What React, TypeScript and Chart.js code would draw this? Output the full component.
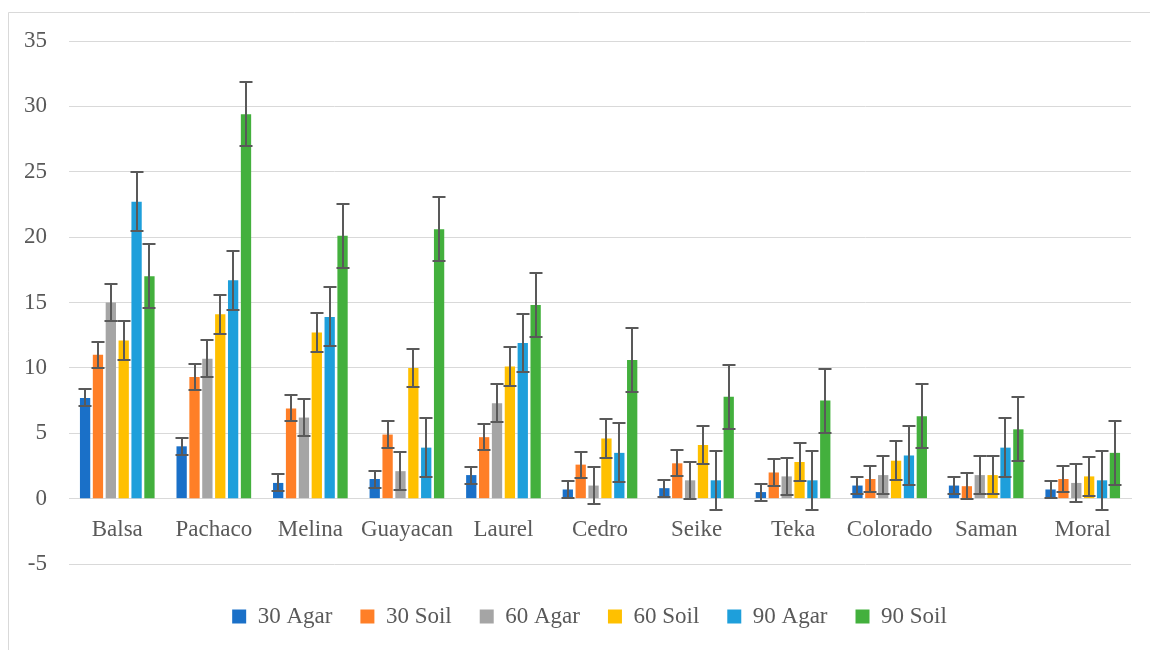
import React, { useEffect, useRef } from "react";
import { Chart, registerables } from "chart.js";

Chart.register(...registerables);

const categories = ["Balsa", "Pachaco", "Melina", "Guayacan", "Laurel", "Cedro", "Seike", "Teka", "Colorado", "Saman", "Moral"];

const agar30 = [7.7, 4.0, 1.2, 1.5, 1.8, 0.7, 0.8, 0.5, 1.0, 1.0, 0.7];
const soil30 = [11.0, 9.3, 6.9, 4.9, 4.7, 2.6, 2.7, 2.0, 1.5, 0.95, 1.5];
const agar60 = [15.0, 10.7, 6.2, 2.1, 7.3, 1.0, 1.4, 1.7, 1.8, 1.8, 1.2];
const soil60 = [12.1, 14.1, 12.7, 10.0, 10.1, 4.6, 4.1, 2.8, 2.9, 1.8, 1.7];
const agar90 = [22.7, 16.7, 13.9, 3.9, 11.9, 3.5, 1.4, 1.4, 3.3, 3.9, 1.4];
const soil90 = [17.0, 29.4, 20.1, 20.6, 14.8, 10.6, 7.8, 7.5, 6.3, 5.3, 3.5];

const seriesNames = ["30 Agar", "30 Soil", "60 Agar", "60 Soil", "90 Agar", "90 Soil"];
const seriesColors = ["#1A70C8", "#FF7F27", "#A5A5A5", "#FFC000", "#1E9FDB", "#43B03D"];
// fixed error amount (±) for each series
const seriesErrors = [0.65, 1.0, 1.43, 1.48, 2.25, 2.45];

const yMin = -5;
const yMax = 35;
const yStep = 5;

const FONT = "'Liberation Serif', 'Times New Roman', serif";
const FONT_SIZE = 23;
const TEXT = "#595959";
const GRID = "#d9d9d9";

const framePlugin = {
  id: "frame",
  afterLayout(chart: any) {
    // let the y labels (which sit left of the narrow axis box) be drawn unclipped
    const ys = chart.scales.y;
    ys.left = 0;
    ys.width = ys.right;
  },
  beforeDraw(chart: any) {
    const ctx = chart.ctx;
    ctx.save();
    ctx.fillStyle = "#ffffff";
    ctx.fillRect(0, 0, chart.width, chart.height);
    ctx.strokeStyle = GRID;
    ctx.lineWidth = 1;
    ctx.beginPath();
    ctx.moveTo(8.5, chart.height + 5);
    ctx.lineTo(8.5, 12.5);
    ctx.lineTo(chart.width + 5, 12.5);
    ctx.stroke();
    ctx.restore();
  },
};

const errorBarPlugin = {
  id: "errorBars",
  afterDatasetsDraw(chart: any) {
    const ctx = chart.ctx;
    const yScale = chart.scales.y;
    ctx.save();
    ctx.strokeStyle = "#595959";
    ctx.lineWidth = 2;
    chart.data.datasets.forEach((ds: any, i: number) => {
      const meta = chart.getDatasetMeta(i);
      if (meta.hidden) return;
      const err = seriesErrors[i];
      meta.data.forEach((bar: any, j: number) => {
        const v = ds.data[j];
        const yt = Math.round(yScale.getPixelForValue(v + err));
        const yb = Math.round(yScale.getPixelForValue(v - err));
        const x = Math.round(bar.x);
        const half = 6.5;
        ctx.beginPath();
        ctx.moveTo(x, yt);
        ctx.lineTo(x, yb);
        ctx.moveTo(x - half, yt);
        ctx.lineTo(x + half, yt);
        ctx.moveTo(x - half, yb);
        ctx.lineTo(x + half, yb);
        ctx.stroke();
      });
    });
    ctx.restore();
  },
};

export default function App() {
  const ref = useRef<HTMLCanvasElement | null>(null);

  useEffect(() => {
    if (!ref.current) return;
    const seriesData = [agar30, soil30, agar60, soil60, agar90, soil90];
    const chart = new Chart(ref.current, {
      type: "bar",
      data: {
        labels: categories,
        datasets: seriesData.map((d, i) => ({
          label: seriesNames[i],
          data: d,
          backgroundColor: seriesColors[i],
          borderWidth: 0,
          categoryPercentage: 0.8,
          barPercentage: 0.8,
        })),
      },
      options: {
        responsive: false,
        animation: false,
        layout: { padding: { left: 48, right: 19, top: 41, bottom: 12 } },
        plugins: {
          tooltip: { enabled: false },
          legend: {
            position: "bottom",
            labels: {
              boxWidth: 14,
              boxHeight: 14,
              padding: 28,
              color: TEXT,
              font: { family: FONT, size: FONT_SIZE },
            },
          },
        },
        scales: {
          x: {
            type: "category",
            position: { y: 0 } as any,
            grid: { display: false },
            border: { display: true, color: GRID, width: 1 },
            ticks: {
              color: TEXT,
              font: { family: FONT, size: FONT_SIZE },
              padding: 10,
              maxRotation: 0,
              autoSkip: false,
            },
          },
          xPad: {
            type: "category",
            position: "bottom",
            display: true,
            grid: { display: false },
            border: { display: false },
            ticks: { display: false },
            afterFit: (s: any) => {
              s.height = 13;
            },
          },
          y: {
            min: yMin,
            max: yMax,
            ticks: {
              stepSize: yStep,
              color: TEXT,
              font: { family: FONT, size: FONT_SIZE },
              padding: 22,
            },
            grid: { color: GRID, lineWidth: 1, drawTicks: false },
            border: { display: false },
            afterFit: (s: any) => {
              s.width = 21;
            },
          },
        },
      },
      plugins: [framePlugin, errorBarPlugin],
    });
    return () => chart.destroy();
  }, []);

  return (
    <div style={{ position: "fixed", left: 0, top: 0, width: 1150, height: 650, background: "#fff" }}>
      <canvas ref={ref} width={1150} height={650} style={{ display: "block" }} />
    </div>
  );
}
